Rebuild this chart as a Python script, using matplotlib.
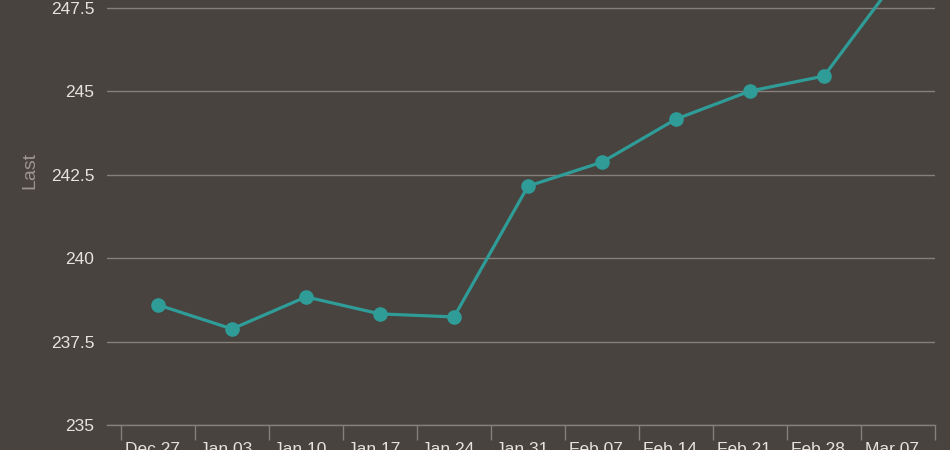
import numpy as np
import matplotlib.pyplot as plt

plt.rcParams['font.family'] = ['Liberation Sans', 'DejaVu Sans']

# weekly values
semanas = ['Dec 27', 'Jan 03', 'Jan 10', 'Jan 17', 'Jan 24', 'Jan 31',
           'Feb 07', 'Feb 14', 'Feb 21', 'Feb 28', 'Mar 07']
last = [238.60, 237.88, 238.84, 238.33, 238.24, 242.16,
        242.88, 244.17, 245.01, 245.46, 248.43]
yticks = [235, 237.5, 240, 242.5, 245, 247.5]

fondo = '#48433f'
rejilla = '#85807b'
teal = '#2f9c98'

fig = plt.figure(figsize=(9.5, 4.5), dpi=100, facecolor=fondo)
ax = fig.add_axes([107 / 950, 25 / 450, 828 / 950, 425 / 450])
ax.set_facecolor(fondo)

x = np.arange(len(semanas))
ax.plot(x, last, color=teal, lw=2.3, marker='o', ms=9.5, zorder=3)

ax.set_ylim(235, 247.74)
ax.set_xlim(-0.69, 10.5)
ax.set_yticks(yticks)
ax.set_yticklabels(['235', '237.5', '240', '242.5', '245', '247.5'])
ax.yaxis.grid(True, color=rejilla, lw=1)
ax.tick_params(axis='y', length=0, pad=9, labelsize=12.5, colors='#e6e2de')

# separadores de categoria como ticks mayores, etiquetas en los menores
ax.set_xticks(np.arange(len(semanas) + 1) - 0.5)
ax.set_xticklabels([])
ax.tick_params(axis='x', which='major', length=11, width=1, color=rejilla)
ax.set_xticks(x - 0.08, minor=True)
ax.set_xticklabels(semanas, minor=True)
ax.tick_params(axis='x', which='minor', length=0, pad=12, labelsize=12.5,
               colors='#e6e2de')

for s in ['left', 'right', 'top']:
    ax.spines[s].set_visible(False)
ax.spines['bottom'].set_color(rejilla)
ax.spines['bottom'].set_linewidth(1)

ax.set_ylabel('Last', color='#9c968f', fontsize=14)
ax.yaxis.set_label_coords(-0.083, 0.6)

fig.savefig('out.png', dpi=100, facecolor=fondo)
